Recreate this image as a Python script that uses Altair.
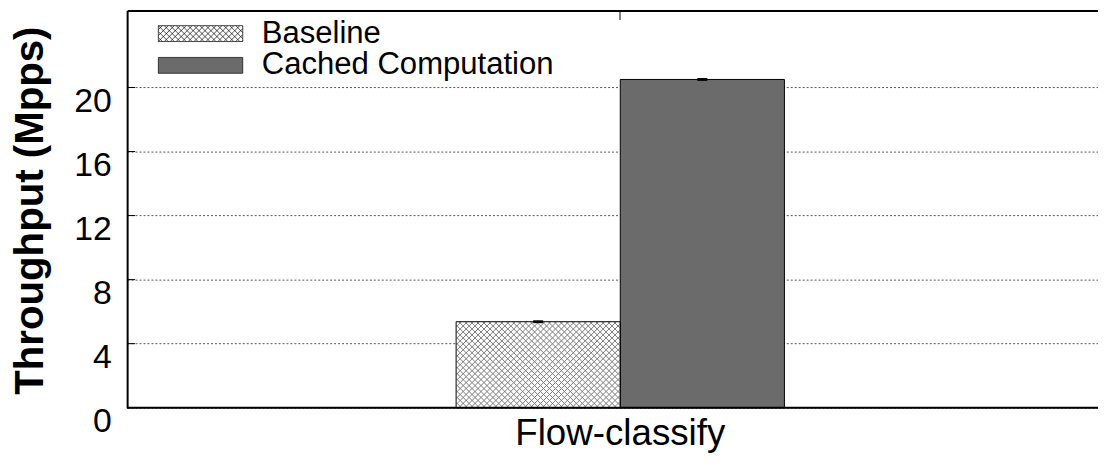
import altair as alt
import pandas as pd

# ---------------- data ----------------
categories = ["Flow-classify"]
series = ["Baseline", "Cached Computation"]
values = [5.37, 20.5]
errors = [0.09, 0.09]
yticks = [0, 4, 8, 12, 16, 20]

df = pd.DataFrame({
    "bench": [categories[0]] * len(series),
    "series": series,
    "value": values,
    "err": errors,
})
df["lo"] = df["value"] - df["err"]
df["hi"] = df["value"] + df["err"]
tick_df = pd.DataFrame({"t": yticks})

# ---------------- layout / style ----------------
W, H = 978, 400
YMAX = 24.8
FONT = "Liberation Sans"
YTITLE = "Throughput (Mpps)"

bar_w = 164.0                      # pixel width of one bar
band_w = 2 * bar_w                 # the category band
W_EFF = 970.0                      # measured effective band range
po = (W_EFF / band_w - 1) / 2      # outer padding giving that band width
band_align = 328.7 / (W_EFF - band_w)


def hatch_path(hw, hh, step, border=False):
    """Cross-hatch (45 degree) path in symbol unit coordinates."""
    parts = []
    if border:
        parts.append(f"M{-hw:.3f},{-hh:.3f}L{hw:.3f},{-hh:.3f}L{hw:.3f},{hh:.3f}L{-hw:.3f},{hh:.3f}Z")
    c = -hw - 2 * hh
    while c <= hw + 2 * hh:
        for sgn in (1, -1):
            y0, y1 = -hh, hh
            x0, x1 = c + sgn * y0, c + sgn * y1
            dx = x1 - x0
            ta, tb = (-hw - x0) / dx, (hw - x0) / dx
            t0, t1 = max(0.0, min(ta, tb)), min(1.0, max(ta, tb))
            if t1 - t0 > 1e-6:
                ax, ay = x0 + dx * t0, y0 + (y1 - y0) * t0
                bx, by = x0 + dx * t1, y0 + (y1 - y0) * t1
                parts.append(f"M{ax:.3f},{ay:.3f}L{bx:.3f},{by:.3f}")
        c += step
    return "".join(parts)


# hatch drawn as a point shape over the Baseline bar (scale = sqrt(size)/2)
bar_scale = bar_w / 2
bar_h_px = values[0] * H / YMAX
BAR_HATCH = hatch_path(1.0, bar_h_px / 2 / bar_scale, 6.0 / bar_scale)
BAR_HATCH_SIZE = (2 * bar_scale) ** 2

# legend swatches: 85 x 16 px, symbol size 900 -> scale 15
LEG_SIZE = 900
leg_scale = LEG_SIZE ** 0.5 / 2
leg_hw, leg_hh = 42.5 / leg_scale, 8.0 / leg_scale
LEG_HATCH = hatch_path(leg_hw, leg_hh, 6.0 / leg_scale, border=True)
LEG_RECT = f"M{-leg_hw:.3f},{-leg_hh:.3f}L{leg_hw:.3f},{-leg_hh:.3f}L{leg_hw:.3f},{leg_hh:.3f}L{-leg_hw:.3f},{leg_hh:.3f}Z"
sym_expr = f"datum.value === 'Baseline' ? '{LEG_HATCH}' : '{LEG_RECT}'"

# ---------------- encodings ----------------
x_scale = alt.Scale(paddingInner=0, paddingOuter=po, align=band_align)
xoff_scale = alt.Scale(domain=series, paddingInner=0, paddingOuter=0)
y_scale = alt.Scale(domain=[0, YMAX], nice=False, zero=True)

x_axis = alt.Axis(
    orient="bottom", offset=-H, domain=True, domainColor="black", domainWidth=2,
    ticks=True, tickSize=9, tickColor="black", tickWidth=1,
    labelFont=FONT, labelFontSize=37, labelColor="black", labelAngle=0,
    labelPadding=428, labelBaseline="alphabetic", labelLimit=600, grid=False,
)
y_axis = alt.Axis(
    values=yticks, domain=True, domainColor="black", domainWidth=2, ticks=False,
    grid=True, gridColor="#555555", gridDash=[2, 2], gridWidth=1,
    labelFont=FONT, labelFontSize=34, labelColor="black", labelPadding=16,
    labelBaseline="top", labelOffset=-3,
    titleFont=FONT, titleFontSize=40.5, titleFontWeight="bold", titleColor="black",
    titleAngle=270, titleX=-85, titleY=201, titleAlign="center",
    titleBaseline="alphabetic",
)

X = alt.X("bench:N", scale=x_scale, axis=x_axis, title=None)
Xp = alt.X("bench:N", scale=x_scale, title=None)
XO = alt.XOffset("series:N", scale=xoff_scale, sort=series)
Y = alt.Y("value:Q", scale=y_scale, axis=y_axis, title=YTITLE)
Yp = alt.Y("value:Q", scale=y_scale, title=YTITLE)

legend = alt.Legend(
    orient="none", legendX=58.3, legendY=7.5, direction="vertical", title=None,
    symbolType=alt.ExprRef(expr=sym_expr), symbolSize=LEG_SIZE,
    symbolStrokeColor="black", symbolStrokeWidth=0.7, symbolOffset=0,
    labelFont=FONT, labelFontSize=31.3, labelColor="black", labelOffset=46,
    labelLimit=600, rowPadding=0, padding=0,
)

base = alt.Chart(df)

bars = base.mark_bar().encode(
    x=X, xOffset=XO, y=Y,
    color=alt.Color("series:N", scale=alt.Scale(domain=series, range=["#ffffff", "#6b6b6b"]),
                    legend=legend, title=None),
)
hatch = base.transform_filter(alt.datum.series == "Baseline").transform_calculate(
    mid="datum.value / 2"
).mark_point(
    shape=BAR_HATCH, size=BAR_HATCH_SIZE, filled=False, stroke="#7a7a7a",
    strokeWidth=1, opacity=1,
).encode(x=Xp, xOffset=XO, y=alt.Y("mid:Q", scale=y_scale, title=YTITLE))
outline = base.mark_bar(fillOpacity=0, stroke="black", strokeWidth=1).encode(
    x=Xp, xOffset=XO, y=Yp)
errs = base.mark_bar(size=10, color="black").encode(
    x=Xp, xOffset=XO,
    y=alt.Y("lo:Q", scale=y_scale, title=YTITLE), y2="hi:Q",
)
inner_ticks = alt.Chart(tick_df).mark_rule(color="black", strokeWidth=1).encode(
    y=alt.Y("t:Q", scale=y_scale, title=YTITLE), x=alt.value(0), x2=alt.value(8),
)
bottom_line = alt.Chart(tick_df).transform_filter(alt.datum.t == 0).mark_rule(
    color="black", strokeWidth=2).encode(
    y=alt.Y("t:Q", scale=y_scale, title=YTITLE), x=alt.value(0), x2=alt.value(W),
)

chart = alt.layer(
    bars, hatch, outline, errs, inner_ticks, bottom_line
).properties(
    width=W, height=H,
    autosize=alt.AutoSizeParams(type="none"),
    padding={"left": 120, "top": 1, "right": 0, "bottom": 45},
).configure_view(stroke=None).configure(background="white")

chart.save("out.html", embed_options={"renderer": "svg", "actions": False})
